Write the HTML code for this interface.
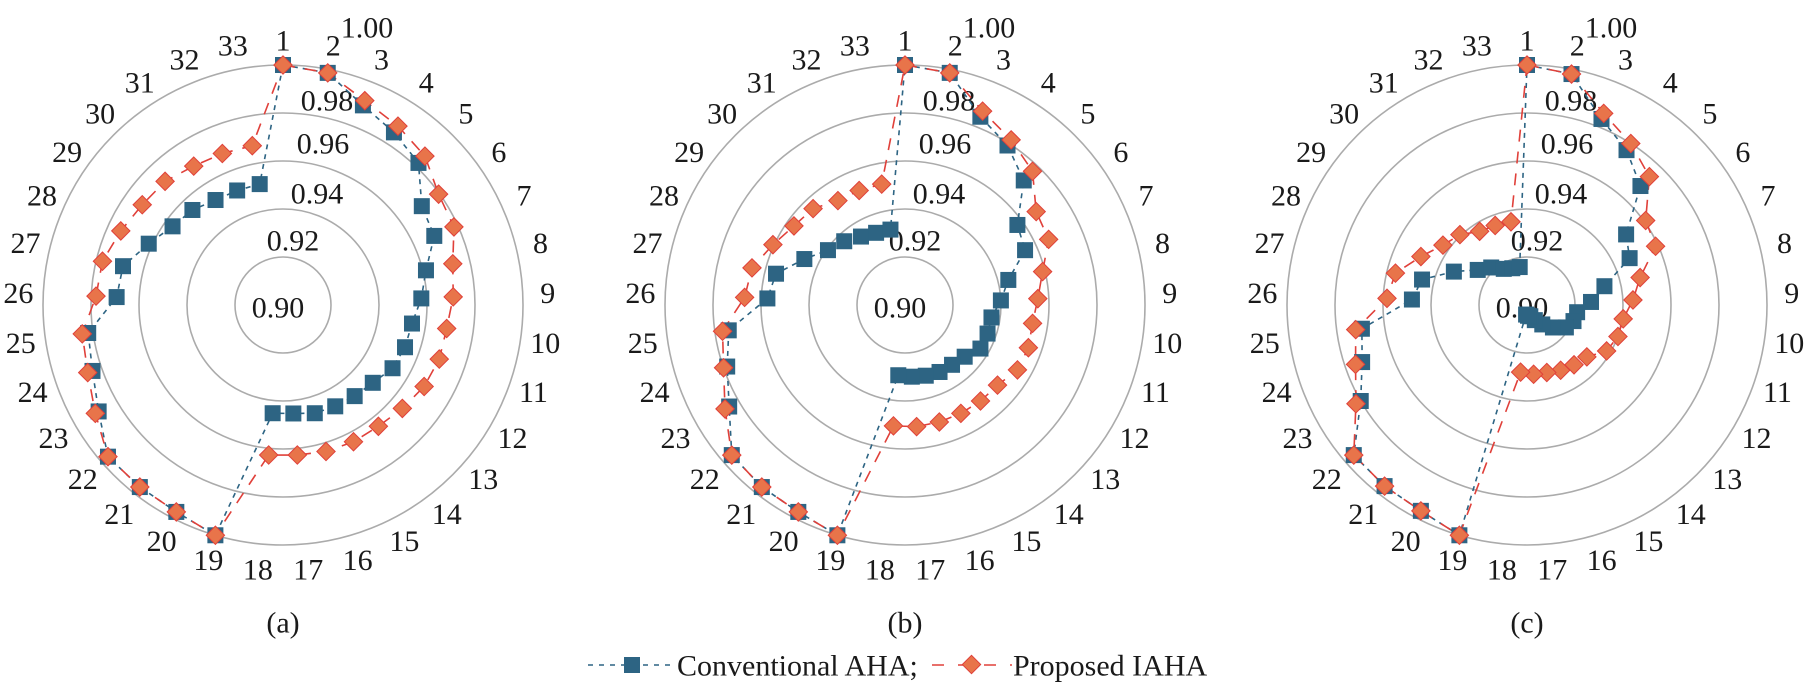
<!DOCTYPE html>
<html><head><meta charset="utf-8">
<style>
html,body{margin:0;padding:0;background:#fff;}
svg{display:block;}
text{font-family:"Liberation Serif",serif;fill:#1a1a1a;}
</style></head>
<body>
<svg id="s" width="1814" height="682" viewBox="0 0 1814 682" xmlns="http://www.w3.org/2000/svg">
<defs>
<g id="rings" fill="none" stroke="#ababab" stroke-width="1.6">
<circle r="48"/><circle r="96"/><circle r="144"/><circle r="192"/><circle r="240"/>
</g>
<g id="labels" font-size="30" text-anchor="middle">
<text x="0" y="-265" dy="0.35em">1</text>
<text x="50.2" y="-260.2" dy="0.35em">2</text>
<text x="98.5" y="-246" dy="0.35em">3</text>
<text x="143.3" y="-222.9" dy="0.35em">4</text>
<text x="182.9" y="-191.8" dy="0.35em">5</text>
<text x="215.9" y="-153.7" dy="0.35em">6</text>
<text x="241" y="-110.1" dy="0.35em">7</text>
<text x="257.5" y="-62.5" dy="0.35em">8</text>
<text x="264.7" y="-12.6" dy="0.35em">9</text>
<text x="262.3" y="37.7" dy="0.35em">10</text>
<text x="250.4" y="86.7" dy="0.35em">11</text>
<text x="229.5" y="132.5" dy="0.35em">12</text>
<text x="200.3" y="173.5" dy="0.35em">13</text>
<text x="163.8" y="208.3" dy="0.35em">14</text>
<text x="121.4" y="235.5" dy="0.35em">15</text>
<text x="74.6" y="254.3" dy="0.35em">16</text>
<text x="25.2" y="263.8" dy="0.35em">17</text>
<text x="-25.2" y="263.8" dy="0.35em">18</text>
<text x="-74.6" y="254.3" dy="0.35em">19</text>
<text x="-121.4" y="235.5" dy="0.35em">20</text>
<text x="-163.8" y="208.3" dy="0.35em">21</text>
<text x="-200.3" y="173.5" dy="0.35em">22</text>
<text x="-229.5" y="132.5" dy="0.35em">23</text>
<text x="-250.4" y="86.7" dy="0.35em">24</text>
<text x="-262.3" y="37.7" dy="0.35em">25</text>
<text x="-264.7" y="-12.6" dy="0.35em">26</text>
<text x="-257.5" y="-62.5" dy="0.35em">27</text>
<text x="-241" y="-110.1" dy="0.35em">28</text>
<text x="-215.9" y="-153.7" dy="0.35em">29</text>
<text x="-182.9" y="-191.8" dy="0.35em">30</text>
<text x="-143.3" y="-222.9" dy="0.35em">31</text>
<text x="-98.5" y="-246" dy="0.35em">32</text>
<text x="-50.2" y="-260.2" dy="0.35em">33</text>
<text x="84" y="-278" dy="0.35em">1.00</text>
<text x="44" y="-205" dy="0.35em">0.98</text>
<text x="40" y="-162" dy="0.35em">0.96</text>
<text x="34" y="-112" dy="0.35em">0.94</text>
<text x="10" y="-65" dy="0.35em">0.92</text>
<text x="-5" y="2" dy="0.35em">0.90</text>
</g>
</defs>
<g transform="translate(283,305)"><use href="#rings"/><use href="#labels"/><g id="ga"></g></g>
<g transform="translate(905,305)"><use href="#rings"/><use href="#labels"/><g id="gb"></g></g>
<g transform="translate(1527,305)"><use href="#rings"/><use href="#labels"/><g id="gc"></g></g>
<text x="283" y="622" dy="0.35em" font-size="30" text-anchor="middle">(a)</text>
<text x="905" y="622" dy="0.35em" font-size="30" text-anchor="middle">(b)</text>
<text x="1527" y="622" dy="0.35em" font-size="30" text-anchor="middle">(c)</text>
<g>
<line x1="588" y1="665" x2="676" y2="665" stroke="#2d6483" stroke-width="1.6" stroke-dasharray="5,6"/>
<rect x="624" y="657" width="16" height="16" fill="#2d6483"/>
<text x="677" y="665" dy="0.35em" font-size="30">Conventional AHA;</text>
<line x1="932" y1="665" x2="1012" y2="665" stroke="#e0403a" stroke-width="1.6" stroke-dasharray="12,14"/>
<rect x="965" y="658" width="13" height="13" fill="#e8744a" stroke="#e0403a" transform="rotate(45 971.5 664.5)"/>
<text x="1013" y="665" dy="0.35em" font-size="30">Proposed IAHA</text>
</g>
</svg>
<script>
var D={
ga:{b:[1,.985,.896,.855,.818,.71,.693,.613,.577,.543,.538,.527,.495,.483,.475,.47,.454,.453,1,.97,.965,.965,.887,.84,.82,.694,.686,.615,.565,.547,.52,.514,.513],
    r:[1,.985,.917,.886,.857,.796,.783,.728,.71,.689,.689,.679,.658,.643,.641,.636,.628,.628,1,.97,.965,.965,.903,.861,.845,.78,.774,.743,.72,.712,.688,.68,.676]},
gb:{b:[1,.985,.845,.79,.717,.575,.55,.443,.40,.364,.364,.363,.329,.317,.314,.307,.30,.294,1,.97,.965,.955,.846,.784,.742,.574,.553,.461,.394,.367,.339,.324,.32],
    r:[1,.985,.87,.818,.77,.671,.658,.59,.554,.537,.544,.541,.51,.509,.508,.508,.509,.506,1,.97,.965,.955,.866,.80,.768,.669,.656,.605,.568,.555,.517,.514,.513]},
gc:{b:[1,.98,.835,.767,.685,.507,.47,.332,.267,.211,.205,.187,.143,.103,.071,.049,.045,.04,1,.965,.96,.955,.80,.727,.695,.48,.45,.335,.252,.216,.179,.165,.161],
    r:[1,.98,.86,.80,.739,.607,.589,.485,.442,.405,.401,.383,.33,.317,.306,.293,.29,.281,1,.965,.96,.955,.823,.756,.721,.584,.564,.486,.43,.405,.365,.357,.353]}
};
var NS="http://www.w3.org/2000/svg";
function pts(a){return a.map(function(f,i){var t=i*2*Math.PI/33,r=f*240;return [r*Math.sin(t),-r*Math.cos(t)];});}
function el(n,at,p){var e=document.createElementNS(NS,n);for(var k in at)e.setAttribute(k,at[k]);p.appendChild(e);return e;}
for(var id in D){
  var g=document.getElementById(id);
  var pb=pts(D[id].b),pr=pts(D[id].r);
  el("polygon",{points:pb.map(function(p){return p.join(",")}).join(" "),fill:"none",stroke:"#2d6483","stroke-width":1.6,"stroke-dasharray":"5,5"},g);
  el("polygon",{points:pr.map(function(p){return p.join(",")}).join(" "),fill:"none",stroke:"#e0403a","stroke-width":1.6,"stroke-dasharray":"12,10"},g);
  pb.forEach(function(p){el("rect",{x:p[0]-8,y:p[1]-8,width:16,height:16,fill:"#2d6483"},g);});
  pr.forEach(function(p){el("rect",{x:p[0]-6.5,y:p[1]-6.5,width:13,height:13,fill:"#e8744a",stroke:"#e0403a","stroke-width":1,transform:"rotate(45 "+p[0]+" "+p[1]+")"},g);});
}
</script>
</body></html>
